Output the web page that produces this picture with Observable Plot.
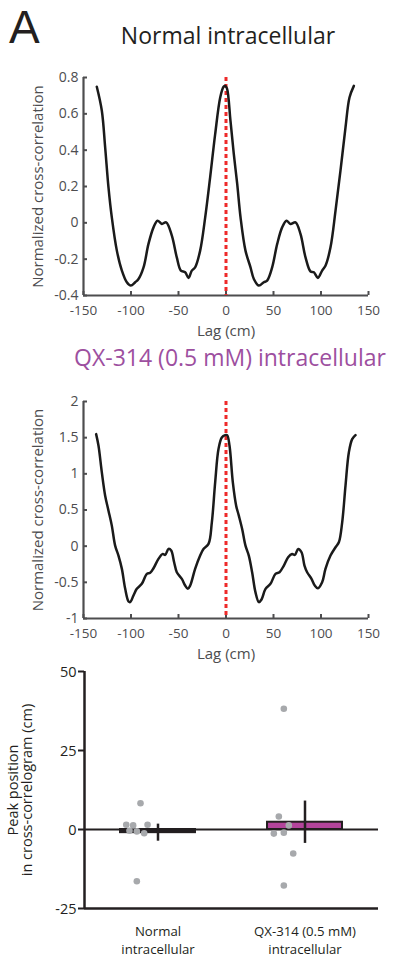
<!DOCTYPE html>
<html><head><meta charset="utf-8">
<script src="https://cdn.jsdelivr.net/npm/d3@7"></script>
<script src="https://cdn.jsdelivr.net/npm/@observablehq/plot@0.6"></script>
<style>
body{margin:0;background:#fff;font-family:"Open Sans",sans-serif;}
#page{position:relative;width:393px;height:959px;overflow:hidden;background:#fff;}
.abs{position:absolute;white-space:nowrap;line-height:1;}
.title{position:absolute;white-space:nowrap;line-height:1;transform:translateX(-50%);}
</style></head><body>
<div id="page">
  <div class="abs" style="left:9px;top:4px;font-size:46px;color:#231f20;font-family:'Liberation Sans',Arial,sans-serif">A</div>
  <div class="title" style="left:228px;top:24px;font-size:23px;color:#231f20">Normal intracellular</div>
  <div class="title" style="left:230px;top:346px;font-size:23px;color:#9d4f9f">QX-314 (0.5 mM) intracellular</div>
  <div class="abs" id="p1" style="left:0;top:60px"></div>
  <div class="abs" id="p2" style="left:0;top:385px"></div>
  <div class="abs" id="p3" style="left:0;top:660px"></div>
</div>
<script>
// ---- Data: normal intracellular cross-correlogram ----
const lagNormal = [-136,-130.7,-127.2,-123.7,-120.2,-114.9,-109.6,-104.4,-100.2,-95.6,-92.1,-86.8,-81.6,-76.3,-72.1,-67.5,-63.0,-57.0,-51.8,-47.5,-43.0,-39.5,-36.0,-32.5,-27.2,-21.9,-16.7,-11.4,-6.1,-2.6,-1,1,4.7,8.2,11.8,15.3,20.5,25.8,29.3,34.6,39.8,43.3,48.6,53.9,59.1,63.7,67.9,73.2,78.4,83.7,89.0,92.5,96.7,101.2,104.7,110.0,115.3,120.5,125.8,130.0,134.6];
const ccNormal = [0.749,0.617,0.415,0.195,0.030,-0.153,-0.263,-0.327,-0.345,-0.327,-0.309,-0.245,-0.116,-0.025,0.012,-0.006,0.003,-0.070,-0.190,-0.263,-0.272,-0.303,-0.263,-0.245,-0.153,0.030,0.250,0.488,0.690,0.749,0.755,0.740,0.562,0.379,0.214,0.030,-0.153,-0.245,-0.309,-0.345,-0.327,-0.318,-0.245,-0.116,-0.025,0.012,-0.006,0.003,-0.061,-0.190,-0.268,-0.272,-0.303,-0.263,-0.236,-0.135,0.067,0.287,0.525,0.690,0.754];

// ---- Data: QX-314 intracellular cross-correlogram ----
const lagQX = [-136.7,-134.2,-130.7,-127.2,-123.7,-120.2,-116.7,-113.2,-109.6,-106.1,-102.6,-100.9,-97.4,-93.9,-88.6,-83.3,-79.8,-76.3,-71.1,-66.5,-64.0,-60.5,-57.7,-54.6,-51.8,-46.5,-43.0,-40.2,-37.7,-32.5,-27.2,-23.7,-18.4,-14.9,-11.4,-7.9,-4.4,-0.9,1.2,3.7,7.2,10.7,13.5,17.0,20.5,24.0,27.5,31.0,34.6,37.4,41.6,46.8,52.1,56.3,60.9,65.4,69.6,72.5,76.0,79.5,82.6,85.4,90.0,93.5,96.7,101.2,104.7,110.0,115.3,118.8,122.3,125.8,129.3,132.8,136.3];
const ccQX = [1.549,1.388,1.020,0.698,0.491,0.284,0.008,-0.130,-0.314,-0.590,-0.765,-0.774,-0.682,-0.590,-0.521,-0.383,-0.369,-0.305,-0.176,-0.107,-0.121,-0.038,-0.061,-0.222,-0.360,-0.452,-0.544,-0.590,-0.544,-0.314,-0.130,-0.038,0.031,0.330,0.882,1.342,1.503,1.535,1.535,1.388,0.882,0.560,0.422,0.238,0.008,-0.130,-0.360,-0.636,-0.774,-0.737,-0.590,-0.521,-0.383,-0.360,-0.268,-0.153,-0.107,-0.121,-0.038,-0.084,-0.268,-0.360,-0.452,-0.544,-0.581,-0.498,-0.314,-0.130,-0.015,0.054,0.330,0.836,1.296,1.480,1.535];

// ---- Tick values ----
const lagTicks = [-150,-100,-50,0,50,100,150];
const yTicksNormal = [-0.4,-0.2,0,0.2,0.4,0.6,0.8];
const yTicksQX = [-1,-0.5,0,0.5,1,1.5,2];
const peakTicks = [-25,0,25,50];

// ---- Data: peak position summary ----
const groups = ["Normal\nintracellular", "QX-314 (0.5 mM)\nintracellular"];
const groupIndex = [1, 2];
const groupMean = [-1.0, 2.3];
const groupSem = [2.7, 6.7];
const cellGroup = [1,1,1,1,1,1,1,1, 2,2,2,2,2,2,2];
const cellJitter = [-0.216,-0.169,-0.071,-0.119,-0.194,-0.144,-0.094,-0.144, -0.178,-0.144,-0.110,-0.212,-0.144,-0.080,-0.144];
const cellPeak = [1.5,1.3,1.5,8.3,-0.4,-0.6,-1.2,-16.4, 4.1,38.2,1.3,-1.3,-1.0,-7.6,-17.7];

const fmt = d => String(d);

function ccPlot(lag, cc, yDomain, yTicks, height, mTop, mBottom) {
  const data = lag.map((x, i) => ({x, y: cc[i]}));
  return Plot.plot({
    width: 393, height, marginLeft: 83, marginRight: 25, marginTop: mTop, marginBottom: mBottom,
    style: {fontFamily: "Open Sans", fontSize: "14px", color: "#4d4d4f", background: "transparent", overflow: "visible"},
    x: {domain: [-150, 150]},
    y: {domain: yDomain},
    marks: [
      Plot.axisX({ticks: lagTicks, tickSize: -4, tickPadding: 14, tickFormat: fmt, strokeWidth: 2, fontSize: 13.5,
        label: "Lag (cm)", labelAnchor: "center", labelOffset: 40, labelArrow: "none"}),
      Plot.axisY({ticks: yTicks, tickSize: -4, tickPadding: 9, tickFormat: fmt, strokeWidth: 2, fontSize: 14,
        label: "Normalized cross-correlation", labelAnchor: "center", labelOffset: 51, labelArrow: "none"}),
      Plot.ruleX([-150], {stroke: "#4d4d4f", strokeWidth: 2.2}),
      Plot.ruleY([yDomain[0]], {stroke: "#4d4d4f", strokeWidth: 2.2}),
      Plot.ruleX([0], {stroke: "#ee2a2a", strokeWidth: 3, strokeDasharray: "4,3"}),
      Plot.line(data, {x: "x", y: "y", stroke: "#1a1a1a", strokeWidth: 2.5, curve: "catmull-rom"})
    ]
  });
}

function fixLabels(svg) {
  // axis titles at 15px, tick labels stay at their own size
  svg.querySelectorAll("g[aria-label='x-axis label'], g[aria-label='y-axis label']").forEach(g => g.setAttribute("font-size", "15"));
  return svg;
}

document.getElementById("p1").append(fixLabels(ccPlot(lagNormal, ccNormal, [-0.4, 0.8], yTicksNormal, 275, 17, 40)));
document.getElementById("p2").append(fixLabels(ccPlot(lagQX, ccQX, [-1, 2], yTicksQX, 273, 16, 40)));

const bars = groupIndex.map((g, i) => ({g, mean: groupMean[i], sem: groupSem[i], name: groups[i]}));
const cells = cellPeak.map((v, i) => ({x: cellGroup[i] + cellJitter[i], y: v}));
const halfBar = 0.255;

const p3 = Plot.plot({
  width: 393, height: 299, marginLeft: 84, marginRight: 15, marginTop: 11, marginBottom: 51,
  style: {fontFamily: "Open Sans", fontSize: "13px", color: "#231f20", background: "transparent", overflow: "visible"},
  x: {domain: [0.5, 2.5]},
  y: {domain: [-25, 50]},
  color: {domain: groups, range: ["#231f20", "#b3449b"]},
  marks: [
    Plot.axisY({ticks: peakTicks, tickSize: 6, tickPadding: 2, tickFormat: fmt, strokeWidth: 2,
      label: "Peak position\nin cross-correlogram (cm)", labelAnchor: "center", labelOffset: 77, labelArrow: "none", fontSize: 14.5, lineHeight: 1.25}),
    Plot.axisX({ticks: groupIndex, tickSize: 0, tickPadding: 15, tickFormat: i => groups[i - 1], label: null, fontSize: 13.2, lineHeight: 1.37}),
    Plot.rectY(bars, {x1: d => d.g - halfBar, x2: d => d.g + halfBar, y1: 0, y2: "mean", fill: "name", stroke: "#231f20", strokeWidth: 2}),
    Plot.ruleY([0], {x1: 0.5, x2: 2.5, stroke: "#231f20", strokeWidth: 2}),
    Plot.ruleY([-25], {stroke: "#231f20", strokeWidth: 2.5}),
    Plot.ruleX([0.5], {stroke: "#231f20", strokeWidth: 2.5}),
    Plot.ruleX(bars, {x: "g", y1: d => d.mean - d.sem, y2: d => d.mean + d.sem, stroke: "#231f20", strokeWidth: 2.5}),
    Plot.dot(cells, {x: "x", y: "y", r: 3.3, fill: "#a7a9ac"})
  ]
});
document.getElementById("p3").append(p3);
</script>
</body></html>
